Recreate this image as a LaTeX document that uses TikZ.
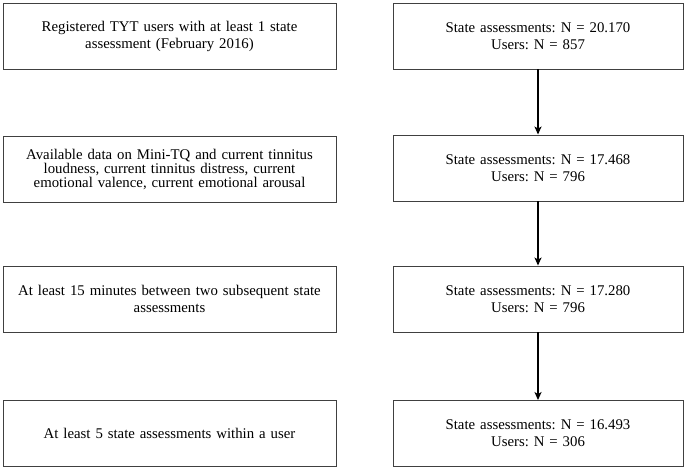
\documentclass[tikz,border=0pt]{standalone}
\usepackage{fontspec}
\setmainfont{Liberation Serif}
\usetikzlibrary{arrows.meta}
\frenchspacing
\begin{document}
\begin{tikzpicture}[x=1pt,y=-1pt,
  box/.style={draw=black!75, line width=0.9pt, minimum height=66pt, align=center, inner sep=0pt, font=\fontsize{14.8}{17}\selectfont},
  lbox/.style={box, minimum width=333pt, text width=325pt},
  rbox/.style={box, minimum width=290pt, text width=280pt},
  arr/.style={-{Stealth[length=8pt,width=7pt,inset=2pt]}, line width=1.8pt}]
\useasboundingbox (0,0) rectangle (685,470);
\node[lbox] (l1) at (169.5,36) {Registered TYT users with at least 1 state\\assessment (February 2016)};
\node[lbox,font=\fontsize{14.8}{14}\selectfont] (l2) at (169.5,169.5) {Available data on Mini-TQ and current tinnitus\\loudness, current tinnitus distress, current\\emotional valence, current emotional arousal};
\node[lbox] (l3) at (169.5,299) {At least 15 minutes between two subsequent state\\assessments};
\node[lbox] (l4) at (169.5,433.5) {At least 5 state assessments within a user};
\node[rbox] (r1) at (538,36) {State assessments: N = 20.170\\Users: N = 857};
\node[rbox] (r2) at (538,168) {State assessments: N = 17.468\\Users: N = 796};
\node[rbox] (r3) at (538,299) {State assessments: N = 17.280\\Users: N = 796};
\node[rbox] (r4) at (538,433.5) {State assessments: N = 16.493\\Users: N = 306};
\draw[arr] (r1) -- (r2);
\draw[arr] (r2) -- (r3);
\draw[arr] (r3) -- (r4);
\end{tikzpicture}
\end{document}
